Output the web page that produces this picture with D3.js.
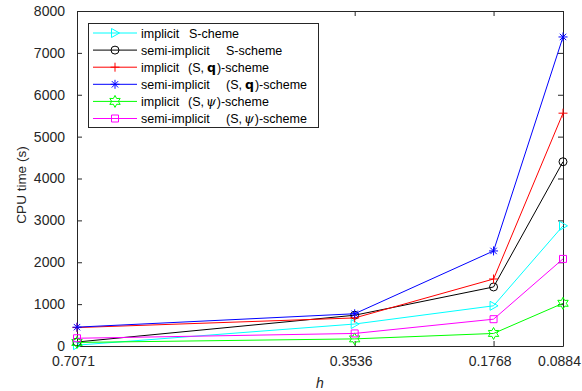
<!DOCTYPE html>
<html>
<head>
<meta charset="utf-8">
<script src="https://cdn.jsdelivr.net/npm/d3@7"></script>
<style>
  body { margin: 0; background: #fff; }
  text { font-family: "Liberation Sans", Arial, sans-serif; }
</style>
</head>
<body>
<div id="chart"></div>
<script>
// mesh size h (x axis runs from coarse to fine)
const hValues = [0.7071, 0.3536, 0.1768, 0.0884];
const hTickLabels = ["0.7071", "0.3536", "0.1768", "0.0884"];
const yTicks = [0, 1000, 2000, 3000, 4000, 5000, 6000, 7000, 8000];

// CPU time (s) per scheme
const implicitS = [20, 525, 960, 2870];
const semiImplicitS = [95, 735, 1410, 4400];
const implicitSq = [440, 670, 1600, 5560];
const semiImplicitSq = [450, 770, 2270, 7380];
const implicitSpsi = [85, 170, 300, 1020];
const semiImplicitSpsi = [185, 300, 640, 2080];

const series = [
  { name: "implicitS", values: implicitS, color: "#00ffff", marker: "triangle" },
  { name: "semiImplicitS", values: semiImplicitS, color: "#000000", marker: "circle" },
  { name: "implicitSq", values: implicitSq, color: "#ff0000", marker: "plus" },
  { name: "semiImplicitSq", values: semiImplicitSq, color: "#0000ff", marker: "asterisk" },
  { name: "implicitSpsi", values: implicitSpsi, color: "#00ff00", marker: "hexagram" },
  { name: "semiImplicitSpsi", values: semiImplicitSpsi, color: "#ff00ff", marker: "square" },
];

const W = 582, H = 391;
const margin = { top: 11, right: 19, bottom: 45, left: 77 };
const width = W - margin.left - margin.right;
const height = H - margin.top - margin.bottom;
const axisColor = "#262626";

function markerPath(type) {
  if (type === "triangle") return "M-3.5,-4.5L4.5,0L-3.5,4.5Z";
  if (type === "plus") return "M-4.5,0H4.5M0,-4.5V4.5";
  if (type === "asterisk")
    return "M-4.5,0H4.5M0,-4.5V4.5M-3.2,-3.2L3.2,3.2M-3.2,3.2L3.2,-3.2";
  if (type === "square") return "M-3.5,-3.5H3.5V3.5H-3.5Z";
  if (type === "circle") return d3.symbol(d3.symbolCircle, 50)();
  if (type === "hexagram") {
    // star of David outline
    const pts = [];
    for (let i = 0; i < 12; i++) {
      const a = (-90 + i * 30) * Math.PI / 180;
      const r = i % 2 === 0 ? 6 : 3.3;
      pts.push([r * Math.cos(a), r * Math.sin(a)]);
    }
    return "M" + pts.map((p) => p[0].toFixed(2) + "," + p[1].toFixed(2)).join("L") + "Z";
  }
  return "";
}

const svg = d3
  .select("#chart")
  .append("svg")
  .attr("width", W)
  .attr("height", H);

const g = svg
  .append("g")
  .attr("transform", "translate(" + margin.left + " " + margin.top + ")");

const x = d3.scaleLinear().domain([0.7071, 0.0884]).range([0, width]);
const y = d3.scaleLinear().domain([0, 8000]).range([height, 0]);

// axes, MATLAB style: ticks inside, box on top/right
const xAxis = g
  .append("g")
  .attr("transform", "translate(0 " + height + ")")
  .call(
    d3.axisBottom(x).tickValues(hValues).tickFormat((d, i) => hTickLabels[i])
      .tickSizeInner(-5).tickSizeOuter(0).tickPadding(10)
  );
xAxis.selectAll("text").attr("dx", -4);

const yAxis = g
  .append("g")
  .call(
    d3.axisLeft(y).tickValues(yTicks).tickFormat(d3.format("d"))
      .tickSizeInner(-5).tickSizeOuter(0).tickPadding(12)
  );
const topAxis = g
  .append("g")
  .call(d3.axisTop(x).tickValues(hValues).tickFormat("").tickSizeInner(-5).tickSizeOuter(0));
const rightAxis = g
  .append("g")
  .attr("transform", "translate(" + width + " 0)")
  .call(d3.axisRight(y).tickValues(yTicks).tickFormat("").tickSizeInner(-5).tickSizeOuter(0));

[xAxis, yAxis, topAxis, rightAxis].forEach((a) => {
  a.selectAll("path, line").attr("stroke", axisColor);
  a.selectAll("text")
    .attr("fill", axisColor)
    .style("font-size", "14px")
    .style("font-family", "'Liberation Sans', Arial, sans-serif");
});

// lines and markers
const line = d3
  .line()
  .x((d, i) => x(hValues[i]))
  .y((d) => y(d));

series.forEach((s) => {
  g.append("path")
    .attr("d", line(s.values))
    .attr("fill", "none")
    .attr("stroke", s.color)
    .attr("stroke-width", 1);
  g.selectAll(null)
    .data(s.values)
    .enter()
    .append("path")
    .attr("transform", (d, i) => "translate(" + x(hValues[i]) + " " + y(d) + ")")
    .attr("d", markerPath(s.marker))
    .attr("fill", "none")
    .attr("stroke", s.color)
    .attr("stroke-width", 1);
});

// axis titles
g.append("text")
  .attr("x", width / 2)
  .attr("y", height + 42)
  .attr("text-anchor", "middle")
  .style("font-size", "14px")
  .style("font-style", "italic")
  .attr("fill", axisColor)
  .text("h");

svg.append("text")
  .attr("transform", "translate(26 185) rotate(-90)")
  .attr("text-anchor", "middle")
  .style("font-size", "13.5px")
  .attr("fill", axisColor)
  .text("CPU time (s)");

// legend: [text, x or dx, style]
const legendLabels = [
  [["implicit", 141], ["S-cheme", 189]],
  [["semi-implicit", 141], ["S-scheme", 226]],
  [["implicit", 141], ["(S,", 188], ["q", "d3", "bold"], [")-scheme", "d1"]],
  [["semi-implicit", 141], ["(S,", 226], ["q", "d3", "bold"], [")-scheme", "d1"]],
  [["implicit", 141], ["(S,", 188], ["\u03c8", "d2", "italic"], [")-scheme", "d1"]],
  [["semi-implicit", 141], ["(S,", 226], ["\u03c8", "d2", "italic"], [")-scheme", "d1"]],
];

const legend = svg.append("g");
legend.append("rect")
  .attr("x", 88.5)
  .attr("y", 23.5)
  .attr("width", 230)
  .attr("height", 104)
  .attr("fill", "#fff")
  .attr("stroke", axisColor)
  .attr("stroke-width", 1);

series.forEach((s, i) => {
  const ly = 33 + i * 17.1;
  legend.append("line")
    .attr("x1", 93).attr("x2", 137)
    .attr("y1", ly).attr("y2", ly)
    .attr("stroke", s.color);
  legend.append("path")
    .attr("transform", "translate(115 " + ly + ")")
    .attr("d", markerPath(s.marker))
    .attr("fill", "none")
    .attr("stroke", s.color);
  const t = legend.append("text")
    .attr("y", ly + 4.5)
    .style("font-size", "12.5px")
    .attr("fill", "#000");
  legendLabels[i].forEach((p) => {
    const ts = t.append("tspan").text(p[0]);
    if (typeof p[1] === "number") ts.attr("x", p[1]);
    else ts.attr("dx", +p[1].slice(1));
    if (p[2] === "bold") ts.style("font-weight", "bold").style("font-family", "'DejaVu Sans', sans-serif");
    if (p[2] === "italic") ts.style("font-style", "italic").style("font-family", "'DejaVu Serif', serif");
  });
});
</script>
</body>
</html>
